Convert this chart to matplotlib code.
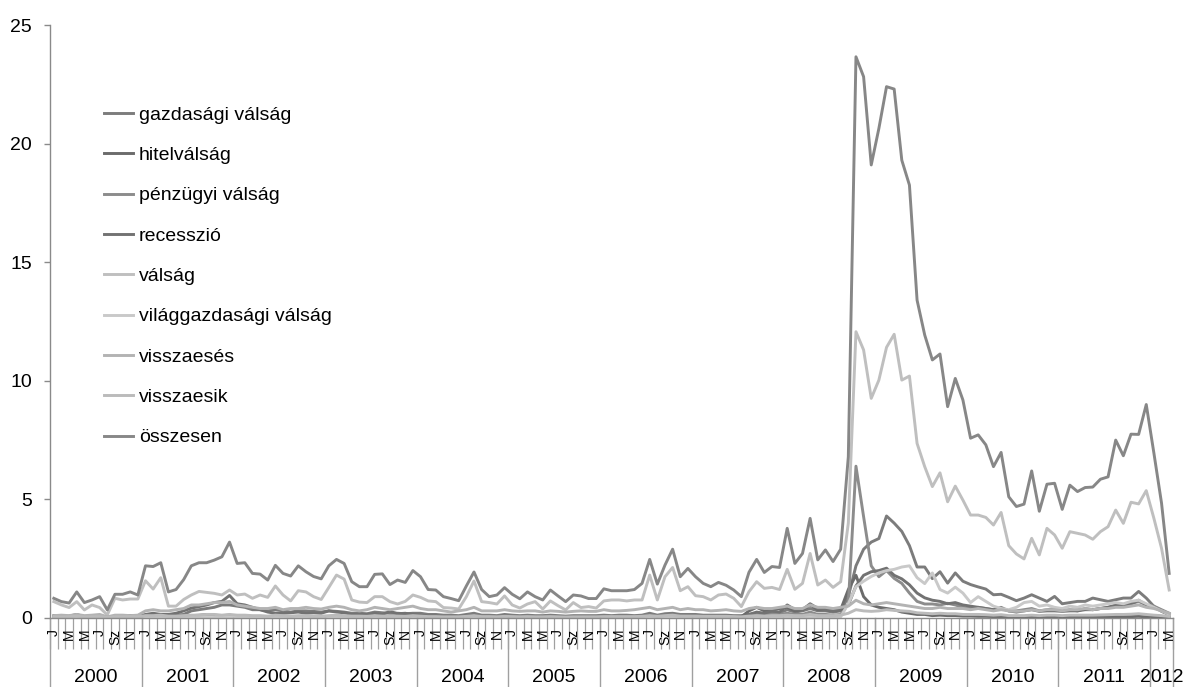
import numpy as np
import matplotlib
matplotlib.use("Agg")
import matplotlib.pyplot as plt
import matplotlib.transforms as mtransforms
from matplotlib.lines import Line2D

plt.rcParams['font.family'] = ['Liberation Sans', 'DejaVu Sans']

years = ["2000", "2001", "2002", "2003", "2004", "2005", "2006",
         "2007", "2008", "2009", "2010", "2011", "2012"]
month_labels = ["J", "", "M", "", "M", "", "J", "", "Sz", "", "N", ""]

series_names = ["gazdasági válság", "hitelválság", "pénzügyi válság", "recesszió",
                "válság", "világgazdasági válság", "visszaesés", "visszaesik", "összesen"]

gazdasagi = [
    0.05, 0.03, 0.05, 0.08, 0.04, 0.05, 0.06, 0.02, 0.05, 0.04, 0.05, 0.05,
    0.10, 0.12, 0.15, 0.10, 0.12, 0.15, 0.30, 0.35, 0.40, 0.45, 0.55, 0.55,
    0.50, 0.45, 0.35, 0.35, 0.30, 0.35, 0.30, 0.25, 0.30, 0.30, 0.28, 0.25,
    0.30, 0.28, 0.25, 0.20, 0.20, 0.18, 0.25, 0.22, 0.20, 0.20, 0.18, 0.20,
    0.20, 0.15, 0.15, 0.12, 0.12, 0.10, 0.15, 0.20, 0.12, 0.12, 0.10, 0.15,
    0.12, 0.10, 0.12, 0.10, 0.10, 0.12, 0.10, 0.08, 0.10, 0.10, 0.10, 0.10,
    0.12, 0.10, 0.12, 0.12, 0.10, 0.12, 0.20, 0.12, 0.18, 0.20, 0.15, 0.15,
    0.15, 0.12, 0.12, 0.12, 0.12, 0.10, 0.10, 0.15, 0.20, 0.18, 0.20, 0.22,
    0.35, 0.25, 0.30, 0.40, 0.30, 0.30, 0.25, 0.30, 0.90, 2.20, 2.90, 3.20,
    3.35, 4.30, 4.00, 3.65, 3.05, 2.15, 2.15, 1.66, 1.95, 1.47, 1.90, 1.55,
    1.41, 1.31, 1.22, 0.98, 1.00, 0.87, 0.73, 0.84, 0.98, 0.84, 0.70, 0.91,
    0.60, 0.65, 0.70, 0.70, 0.84, 0.77, 0.70, 0.77, 0.84, 0.84, 1.12, 0.84,
    0.49, 0.28, 0.14]

hitelvalsag = [
    0.02, 0.01, 0.02, 0.03, 0.01, 0.02, 0.02, 0.01, 0.02, 0.02, 0.01, 0.02,
    0.02, 0.03, 0.02, 0.02, 0.03, 0.02, 0.03, 0.02, 0.03, 0.03, 0.02, 0.03,
    0.02, 0.02, 0.02, 0.03, 0.02, 0.02, 0.02, 0.02, 0.03, 0.02, 0.02, 0.02,
    0.02, 0.03, 0.02, 0.02, 0.02, 0.02, 0.02, 0.02, 0.02, 0.02, 0.02, 0.02,
    0.02, 0.02, 0.02, 0.01, 0.02, 0.01, 0.02, 0.02, 0.01, 0.02, 0.01, 0.02,
    0.01, 0.02, 0.01, 0.02, 0.01, 0.02, 0.01, 0.01, 0.02, 0.01, 0.02, 0.01,
    0.02, 0.01, 0.02, 0.02, 0.01, 0.02, 0.02, 0.02, 0.02, 0.03, 0.02, 0.02,
    0.02, 0.02, 0.02, 0.03, 0.02, 0.02, 0.05, 0.30, 0.45, 0.30, 0.35, 0.40,
    0.45, 0.30, 0.35, 0.55, 0.35, 0.35, 0.30, 0.35, 1.20, 1.80, 0.90, 0.55,
    0.45, 0.40, 0.35, 0.25, 0.20, 0.15, 0.15, 0.10, 0.12, 0.10, 0.10, 0.08,
    0.08, 0.07, 0.07, 0.06, 0.06, 0.05, 0.05, 0.05, 0.06, 0.05, 0.05, 0.05,
    0.05, 0.05, 0.05, 0.05, 0.05, 0.05, 0.05, 0.06, 0.06, 0.06, 0.07, 0.05,
    0.05, 0.04, 0.03]

penzugyi = [
    0.05, 0.04, 0.05, 0.08, 0.03, 0.05, 0.05, 0.02, 0.04, 0.05, 0.04, 0.05,
    0.06, 0.08, 0.06, 0.05, 0.06, 0.08, 0.10, 0.12, 0.15, 0.12, 0.10, 0.12,
    0.08, 0.08, 0.06, 0.06, 0.05, 0.06, 0.06, 0.05, 0.06, 0.06, 0.05, 0.05,
    0.06, 0.06, 0.05, 0.05, 0.04, 0.04, 0.05, 0.05, 0.04, 0.05, 0.05, 0.05,
    0.05, 0.04, 0.04, 0.04, 0.03, 0.03, 0.04, 0.05, 0.04, 0.04, 0.04, 0.04,
    0.04, 0.03, 0.04, 0.04, 0.03, 0.04, 0.04, 0.03, 0.04, 0.04, 0.03, 0.04,
    0.04, 0.04, 0.04, 0.04, 0.04, 0.05, 0.06, 0.05, 0.06, 0.07, 0.05, 0.05,
    0.05, 0.05, 0.04, 0.05, 0.05, 0.04, 0.05, 0.12, 0.18, 0.12, 0.15, 0.15,
    0.20, 0.15, 0.15, 0.25, 0.15, 0.15, 0.12, 0.15, 0.60, 6.40, 4.27, 2.20,
    1.74, 2.00, 1.67, 1.46, 1.05, 0.70, 0.59, 0.59, 0.55, 0.62, 0.55, 0.45,
    0.40, 0.45, 0.40, 0.35, 0.45, 0.30, 0.30, 0.35, 0.40, 0.30, 0.35, 0.40,
    0.30, 0.35, 0.30, 0.40, 0.35, 0.40, 0.45, 0.50, 0.55, 0.60, 0.70, 0.55,
    0.50, 0.35, 0.20]

recesszio = [
    0.10, 0.05, 0.08, 0.15, 0.05, 0.08, 0.10, 0.03, 0.05, 0.08, 0.10, 0.08,
    0.15, 0.20, 0.15, 0.15, 0.20, 0.30, 0.42, 0.48, 0.55, 0.65, 0.70, 0.95,
    0.60, 0.55, 0.45, 0.35, 0.25, 0.20, 0.20, 0.22, 0.25, 0.20, 0.22, 0.20,
    0.30, 0.25, 0.22, 0.15, 0.15, 0.15, 0.20, 0.15, 0.28, 0.18, 0.20, 0.15,
    0.12, 0.08, 0.08, 0.06, 0.05, 0.05, 0.08, 0.10, 0.06, 0.05, 0.05, 0.06,
    0.05, 0.04, 0.05, 0.05, 0.04, 0.05, 0.05, 0.04, 0.05, 0.05, 0.04, 0.05,
    0.05, 0.05, 0.05, 0.05, 0.05, 0.06, 0.08, 0.06, 0.08, 0.10, 0.06, 0.08,
    0.08, 0.06, 0.06, 0.06, 0.06, 0.05, 0.06, 0.15, 0.25, 0.20, 0.30, 0.25,
    0.55, 0.35, 0.35, 0.60, 0.40, 0.35, 0.30, 0.35, 0.55, 1.35, 1.80, 1.95,
    2.00, 2.10, 1.80, 1.65, 1.40, 1.05, 0.85, 0.75, 0.70, 0.60, 0.65, 0.55,
    0.50, 0.45, 0.40, 0.35, 0.40, 0.30, 0.25, 0.30, 0.35, 0.28, 0.30, 0.30,
    0.28, 0.30, 0.30, 0.35, 0.35, 0.40, 0.45, 0.55, 0.55, 0.60, 0.75, 0.55,
    0.45, 0.30, 0.15]

valsag = [
    0.69, 0.55, 0.44, 0.69, 0.34, 0.55, 0.44, 0.13, 0.83, 0.76, 0.80, 0.80,
    1.57, 1.22, 1.70, 0.50, 0.50, 0.78, 0.97, 1.12, 1.08, 1.04, 0.97, 1.18,
    0.97, 1.01, 0.83, 0.97, 0.87, 1.35, 0.97, 0.72, 1.15, 1.10, 0.90, 0.78,
    1.29, 1.81, 1.64, 0.76, 0.67, 0.65, 0.90, 0.90, 0.69, 0.59, 0.70, 0.97,
    0.87, 0.72, 0.69, 0.44, 0.42, 0.38, 0.90, 1.56, 0.69, 0.65, 0.59, 0.93,
    0.55, 0.42, 0.59, 0.69, 0.38, 0.72, 0.52, 0.34, 0.65, 0.44, 0.48, 0.42,
    0.72, 0.76, 0.76, 0.72, 0.76, 0.76, 1.81, 0.76, 1.74, 2.13, 1.15, 1.32,
    0.94, 0.90, 0.76, 0.97, 1.01, 0.83, 0.48, 1.11, 1.53, 1.25, 1.29, 1.20,
    2.05, 1.21, 1.46, 2.72, 1.39, 1.60, 1.29, 1.53, 4.00, 12.07, 11.30, 9.26,
    10.03, 11.41, 11.96, 10.03, 10.20, 7.36, 6.38, 5.54, 6.12, 4.90, 5.56, 4.97,
    4.34, 4.34, 4.24, 3.92, 4.45, 3.05, 2.70, 2.49, 3.36, 2.66, 3.78, 3.50,
    2.94, 3.64, 3.57, 3.50, 3.32, 3.64, 3.85, 4.55, 3.99, 4.88, 4.81, 5.37,
    4.20, 2.94, 1.18]

vilaggazdasagi = [
    0.01, 0.01, 0.01, 0.02, 0.01, 0.01, 0.01, 0.01, 0.01, 0.01, 0.01, 0.01,
    0.01, 0.02, 0.02, 0.01, 0.01, 0.02, 0.02, 0.02, 0.03, 0.02, 0.02, 0.03,
    0.02, 0.02, 0.02, 0.02, 0.01, 0.02, 0.02, 0.01, 0.02, 0.02, 0.01, 0.02,
    0.02, 0.02, 0.02, 0.01, 0.01, 0.01, 0.02, 0.01, 0.01, 0.01, 0.01, 0.02,
    0.01, 0.01, 0.01, 0.01, 0.01, 0.01, 0.01, 0.02, 0.01, 0.01, 0.01, 0.01,
    0.01, 0.01, 0.01, 0.01, 0.01, 0.01, 0.01, 0.01, 0.01, 0.01, 0.01, 0.01,
    0.01, 0.01, 0.01, 0.01, 0.01, 0.01, 0.02, 0.01, 0.02, 0.02, 0.01, 0.01,
    0.01, 0.01, 0.01, 0.01, 0.01, 0.01, 0.01, 0.02, 0.03, 0.02, 0.02, 0.03,
    0.04, 0.03, 0.03, 0.05, 0.03, 0.03, 0.03, 0.05, 0.60, 1.32, 1.55, 1.75,
    1.90, 2.00, 2.05, 2.15, 2.20, 1.70, 1.45, 1.90, 1.20, 1.05, 1.30, 1.05,
    0.65, 0.90, 0.70, 0.50, 0.40, 0.35, 0.45, 0.65, 0.70, 0.50, 0.55, 0.45,
    0.40, 0.50, 0.45, 0.55, 0.50, 0.55, 0.60, 0.65, 0.60, 0.70, 0.75, 0.60,
    0.45, 0.30, 0.15]

visszaeses = [
    0.10, 0.12, 0.10, 0.15, 0.10, 0.12, 0.15, 0.05, 0.12, 0.12, 0.10, 0.12,
    0.30, 0.35, 0.30, 0.30, 0.35, 0.40, 0.55, 0.55, 0.60, 0.65, 0.65, 0.70,
    0.55, 0.50, 0.45, 0.40, 0.40, 0.45, 0.35, 0.40, 0.40, 0.45, 0.40, 0.38,
    0.45, 0.50, 0.45, 0.35, 0.30, 0.35, 0.45, 0.40, 0.35, 0.40, 0.45, 0.50,
    0.40, 0.35, 0.35, 0.30, 0.25, 0.30, 0.35, 0.45, 0.30, 0.30, 0.30, 0.35,
    0.30, 0.28, 0.30, 0.30, 0.25, 0.30, 0.28, 0.25, 0.28, 0.30, 0.28, 0.28,
    0.35, 0.30, 0.30, 0.32, 0.35, 0.40, 0.45, 0.35, 0.40, 0.45, 0.35, 0.40,
    0.35, 0.35, 0.30, 0.32, 0.35, 0.30, 0.28, 0.40, 0.45, 0.40, 0.40, 0.45,
    0.50, 0.40, 0.40, 0.55, 0.45, 0.45, 0.40, 0.45, 0.50, 0.75, 0.60, 0.55,
    0.60, 0.65, 0.60, 0.55, 0.50, 0.45, 0.40, 0.40, 0.45, 0.40, 0.40, 0.40,
    0.35, 0.40, 0.35, 0.30, 0.35, 0.30, 0.28, 0.30, 0.35, 0.30, 0.35, 0.35,
    0.30, 0.35, 0.35, 0.40, 0.35, 0.40, 0.40, 0.45, 0.45, 0.50, 0.55, 0.45,
    0.40, 0.30, 0.20]

visszaesik = [
    0.05, 0.04, 0.05, 0.08, 0.04, 0.05, 0.06, 0.02, 0.05, 0.05, 0.06, 0.05,
    0.10, 0.10, 0.12, 0.08, 0.08, 0.10, 0.12, 0.12, 0.15, 0.15, 0.12, 0.15,
    0.12, 0.12, 0.10, 0.10, 0.08, 0.12, 0.10, 0.08, 0.10, 0.10, 0.08, 0.08,
    0.10, 0.12, 0.10, 0.08, 0.08, 0.07, 0.10, 0.08, 0.08, 0.08, 0.07, 0.10,
    0.08, 0.06, 0.06, 0.05, 0.05, 0.05, 0.07, 0.10, 0.06, 0.06, 0.05, 0.07,
    0.06, 0.05, 0.06, 0.05, 0.05, 0.06, 0.05, 0.04, 0.05, 0.05, 0.05, 0.05,
    0.06, 0.06, 0.06, 0.06, 0.06, 0.07, 0.10, 0.07, 0.10, 0.12, 0.08, 0.08,
    0.08, 0.07, 0.07, 0.07, 0.07, 0.06, 0.05, 0.08, 0.10, 0.08, 0.10, 0.10,
    0.12, 0.10, 0.10, 0.15, 0.10, 0.10, 0.10, 0.12, 0.20, 0.35, 0.30, 0.28,
    0.30, 0.35, 0.32, 0.30, 0.28, 0.22, 0.20, 0.18, 0.20, 0.18, 0.18, 0.15,
    0.15, 0.15, 0.14, 0.12, 0.14, 0.10, 0.10, 0.10, 0.12, 0.10, 0.12, 0.12,
    0.10, 0.12, 0.12, 0.12, 0.12, 0.13, 0.14, 0.15, 0.15, 0.16, 0.18, 0.15,
    0.12, 0.10, 0.06]

osszesen = [
    0.83, 0.69, 0.63, 1.10, 0.65, 0.76, 0.90, 0.34, 1.00, 1.00, 1.10, 0.97,
    2.20, 2.17, 2.33, 1.10, 1.20, 1.62, 2.20, 2.33, 2.33, 2.44, 2.58, 3.20,
    2.30, 2.33, 1.88, 1.85, 1.60, 2.22, 1.88, 1.77, 2.20, 1.95, 1.75, 1.65,
    2.20, 2.47, 2.30, 1.53, 1.32, 1.32, 1.84, 1.86, 1.41, 1.60, 1.50, 2.00,
    1.74, 1.20, 1.18, 0.90, 0.82, 0.73, 1.35, 1.94, 1.20, 0.90, 0.97, 1.28,
    1.00, 0.81, 1.10, 0.90, 0.76, 1.18, 0.93, 0.69, 0.97, 0.93, 0.82, 0.82,
    1.23, 1.15, 1.15, 1.15, 1.20, 1.46, 2.47, 1.43, 2.23, 2.90, 1.74, 2.09,
    1.74, 1.46, 1.32, 1.50, 1.38, 1.18, 0.90, 1.93, 2.47, 1.92, 2.17, 2.13,
    3.78, 2.30, 2.72, 4.20, 2.45, 2.87, 2.38, 2.90, 6.80, 23.66, 22.82, 19.10,
    20.64, 22.40, 22.30, 19.30, 18.25, 13.40, 11.93, 10.88, 11.13, 8.91, 10.10, 9.19,
    7.58, 7.72, 7.30, 6.38, 6.98, 5.11, 4.70, 4.80, 6.20, 4.50, 5.64, 5.68,
    4.58, 5.60, 5.33, 5.50, 5.52, 5.85, 5.95, 7.50, 6.84, 7.75, 7.74, 9.00,
    6.95, 4.84, 1.88]

series_values = [gazdasagi, hitelvalsag, penzugyi, recesszio, valsag,
                 vilaggazdasagi, visszaeses, visszaesik, osszesen]
colors = ["#7c7c7c", "#6b6b6b", "#8c8c8c", "#727272", "#bfbfbf",
          "#c9c9c9", "#b3b3b3", "#bbbbbb", "#878787"]

n = len(osszesen)
x = np.arange(n) + 0.5

W, H = 1183, 687
fig = plt.figure(figsize=(W / 100, H / 100), dpi=100)
ax = fig.add_axes([50 / W, 1 - 618 / H, 1123 / W, 593 / H])

for name, vals, col in zip(series_names, series_values, colors):
    ax.plot(x, vals, color=col, lw=2.1, label=name, solid_joinstyle='round')

axis_col = "#8a8a8a"
ax.set_xlim(0, n)
ax.set_ylim(0, 25)
for s in ["top", "right"]:
    ax.spines[s].set_visible(False)
ax.spines["left"].set_color(axis_col)
ax.spines["bottom"].set_color(axis_col)
ax.spines["left"].set_linewidth(1.0)
ax.spines["bottom"].set_linewidth(1.0)

ax.set_yticks([0, 5, 10, 15, 20, 25])
ax.tick_params(axis='y', direction='out', length=4, width=1, color=axis_col,
               labelsize=14, pad=9)
ax.set_xticks(np.arange(0, n + 1))
ax.set_xticklabels([])
ax.tick_params(axis='x', direction='out', length=22, width=0.9, color="#a0a0a0")

# month labels
mtrans = mtransforms.offset_copy(ax.get_xaxis_transform(), fig=fig, y=-11, units='dots')
for i in range(n):
    lab = month_labels[i % 12]
    if lab:
        ax.text(i + 0.5, 0, lab, transform=mtrans, rotation=90, ha='center', va='top',
                fontsize=10, clip_on=False)

# year separators and labels
sep_trans = ax.get_xaxis_transform()
bottom_frac = -(H - 618) / 593
for b in list(range(0, n, 12)) + [n]:
    ax.add_line(Line2D([b, b], [0, bottom_frac], transform=sep_trans, color="#a0a0a0",
                       lw=1.0, clip_on=False))
ytrans = mtransforms.offset_copy(ax.get_xaxis_transform(), fig=fig, y=-59, units='dots')
for k, yr in enumerate(years):
    start = k * 12
    end = min(start + 12, n)
    ax.text((start + end) / 2, 0, yr, transform=ytrans, ha='center', va='center',
            fontsize=14, clip_on=False)

leg = ax.legend(loc='upper left', bbox_to_anchor=(104 / W, 1 - 106 / H),
                bbox_transform=fig.transFigure, frameon=False, fontsize=14,
                handlelength=1.5, handletextpad=0.3, labelspacing=1.17,
                borderpad=0, borderaxespad=0)

fig.savefig("out.png", dpi=100)
